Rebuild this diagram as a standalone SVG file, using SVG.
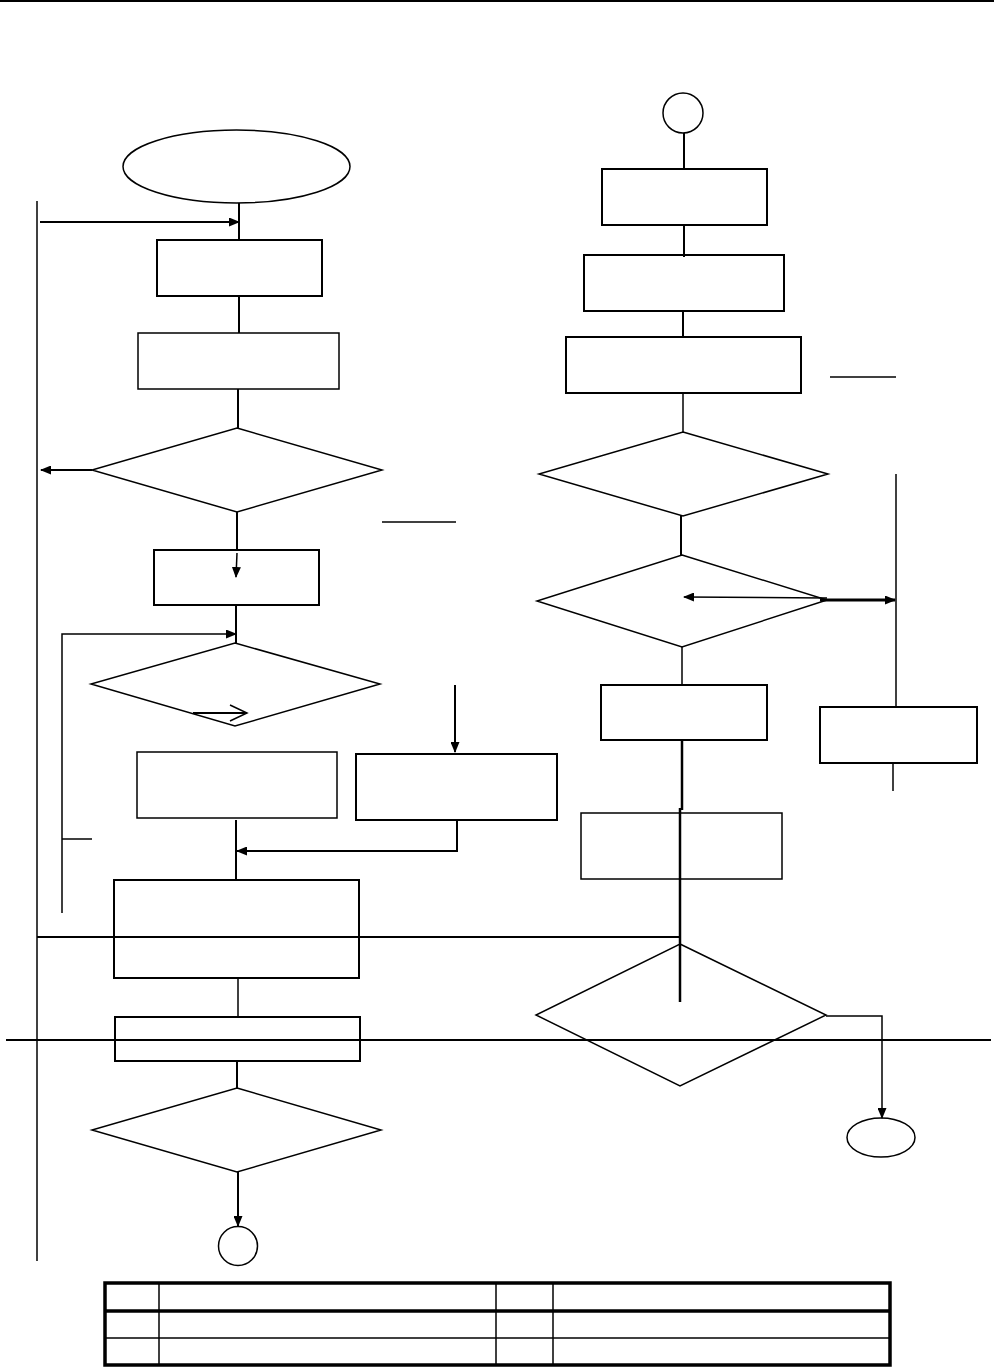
<svg xmlns="http://www.w3.org/2000/svg" width="994" height="1367" viewBox="0 0 994 1367">
<defs>
<marker id="ah" markerWidth="11" markerHeight="9" refX="10" refY="4.5" orient="auto" markerUnits="userSpaceOnUse">
<path d="M0,0 L11,4.5 L0,9 Z" fill="#000"/>
</marker>
<style>
.n{fill:#fff;stroke:#000;stroke-width:2}
.t{fill:#fff;stroke:#000;stroke-width:1.5}
.c{fill:none;stroke:#000;stroke-width:2}
.c1{fill:none;stroke:#000;stroke-width:1.5}
.a{fill:none;stroke:#000;stroke-width:2;marker-end:url(#ah)}
.a1{fill:none;stroke:#000;stroke-width:1.5;marker-end:url(#ah)}
</style>
</defs>
<rect width="994" height="1367" fill="#fff"/>
<g id="start"><ellipse class="t" cx="236.5" cy="166.5" rx="113.5" ry="36.5"/></g>
<g id="box1"><rect class="n" x="157" y="240" width="165" height="56"/></g>
<g id="box2"><rect class="t" x="138" y="333" width="201" height="56"/></g>
<g id="dec1"><polygon class="t" points="237,428 382,470 237,512 92,470"/></g>
<g id="box3"><rect class="n" x="154" y="550" width="165" height="55"/></g>
<g id="dec2"><polygon class="t" points="235,643 380,684 235,726 91,684"/></g>
<g id="box5"><rect class="t" x="137" y="752" width="200" height="66"/></g>
<g id="box6"><rect class="n" x="356" y="754" width="201" height="66"/></g>
<g id="box7"><rect class="n" x="114" y="880" width="245" height="98"/></g>
<g id="box8"><rect class="n" x="115" y="1017" width="245" height="44"/></g>
<g id="dec3"><polygon class="t" points="237,1088 381,1130 237,1172 92,1130"/></g>
<g id="conn1"><circle class="t" cx="238" cy="1246" r="19.5"/></g>
<g id="conn2"><circle class="t" cx="683" cy="113" r="20"/></g>
<g id="boxR1"><rect class="n" x="602" y="169" width="165" height="56"/></g>
<g id="boxR2"><rect class="n" x="584" y="255" width="200" height="56"/></g>
<g id="boxR3"><rect class="n" x="566" y="337" width="235" height="56"/></g>
<g id="decR1"><polygon class="t" points="683,432 828,474 683,516 539,474"/></g>
<g id="decR2"><polygon class="t" points="682,555 827,600 682,647 537,601"/></g>
<g id="boxR4"><rect class="n" x="601" y="685" width="166" height="55"/></g>
<g id="boxR5"><rect class="n" x="820" y="707" width="157" height="56"/></g>
<g id="boxR6"><rect class="t" x="581" y="813" width="201" height="66"/></g>
<g id="decR3"><polygon class="t" points="680,944 826,1015 680,1086 536,1015"/></g>
<g id="end"><ellipse class="t" cx="881" cy="1137.5" rx="34" ry="19.5"/></g>
<g id="connectors">
<line class="c" x1="0" y1="1" x2="994" y2="1"/>
<line class="c1" x1="37" y1="201" x2="37" y2="1261"/>
<line class="c" x1="239" y1="203" x2="239" y2="240"/>
<line class="a" x1="40" y1="222" x2="239" y2="222"/>
<line class="c" x1="239" y1="296" x2="239" y2="333"/>
<line class="c" x1="238" y1="389" x2="238" y2="428"/>
<line class="a" x1="92" y1="470" x2="41" y2="470"/>
<line class="c1" x1="382" y1="522" x2="456" y2="522"/>
<line class="c" x1="237" y1="512" x2="237" y2="550"/>
<line class="a1" x1="237" y1="553" x2="236" y2="577"/>
<line class="c" x1="236" y1="605" x2="236" y2="643"/>
<polyline class="a1" points="62,913 62,634 236,634"/>
<line class="c1" x1="62" y1="839" x2="92" y2="839"/>
<line class="c" x1="193" y1="713" x2="247" y2="713"/>
<polyline class="c1" points="230,705 247,713 230,721"/>
<line class="a" x1="455" y1="685" x2="455" y2="752"/>
<line class="c" x1="236" y1="820" x2="236" y2="880"/>
<polyline class="a" points="457,820 457,851 237,851"/>
<line class="c" x1="37" y1="937" x2="680" y2="937"/>
<line class="c1" x1="238" y1="978" x2="238" y2="1017"/>
<line class="c" x1="6" y1="1040" x2="991" y2="1040"/>
<line class="c" x1="237" y1="1061" x2="237" y2="1088"/>
<line class="a" x1="238" y1="1172" x2="238" y2="1226"/>
<line class="c" x1="684" y1="133" x2="684" y2="170"/>
<line class="c" x1="684" y1="225" x2="684" y2="257"/>
<line class="c" x1="683" y1="311" x2="683" y2="338"/>
<line class="c1" x1="830" y1="377" x2="896" y2="377"/>
<line class="c1" x1="683" y1="393" x2="683" y2="432"/>
<line class="c" x1="681" y1="516" x2="681" y2="555"/>
<line class="a1" x1="827" y1="598" x2="684" y2="597"/>
<line class="a" x1="820" y1="600" x2="895" y2="600" style="stroke-width:3"/>
<line class="c1" x1="896" y1="474" x2="896" y2="707"/>
<line class="c1" x1="893" y1="763" x2="893" y2="791"/>
<line class="c1" x1="682" y1="647" x2="682" y2="685"/>
<line class="c" x1="682" y1="740" x2="682" y2="810" style="stroke-width:2.5"/>
<line class="c" x1="680" y1="808" x2="680" y2="1002" style="stroke-width:2.5"/>
<polyline class="a1" points="826,1016 882,1016 882,1118"/>
</g>
<g id="table">
<rect x="105" y="1283" width="785" height="82" fill="none" stroke="#000" stroke-width="3.5"/>
<line x1="105" y1="1311" x2="890" y2="1311" stroke="#000" stroke-width="3.5"/>
<line x1="105" y1="1338" x2="890" y2="1338" stroke="#000" stroke-width="1.5"/>
<line x1="159" y1="1283" x2="159" y2="1365" stroke="#000" stroke-width="1.5"/>
<line x1="496" y1="1283" x2="496" y2="1365" stroke="#000" stroke-width="1.5"/>
<line x1="553" y1="1283" x2="553" y2="1365" stroke="#000" stroke-width="1.5"/>
</g>
</svg>
